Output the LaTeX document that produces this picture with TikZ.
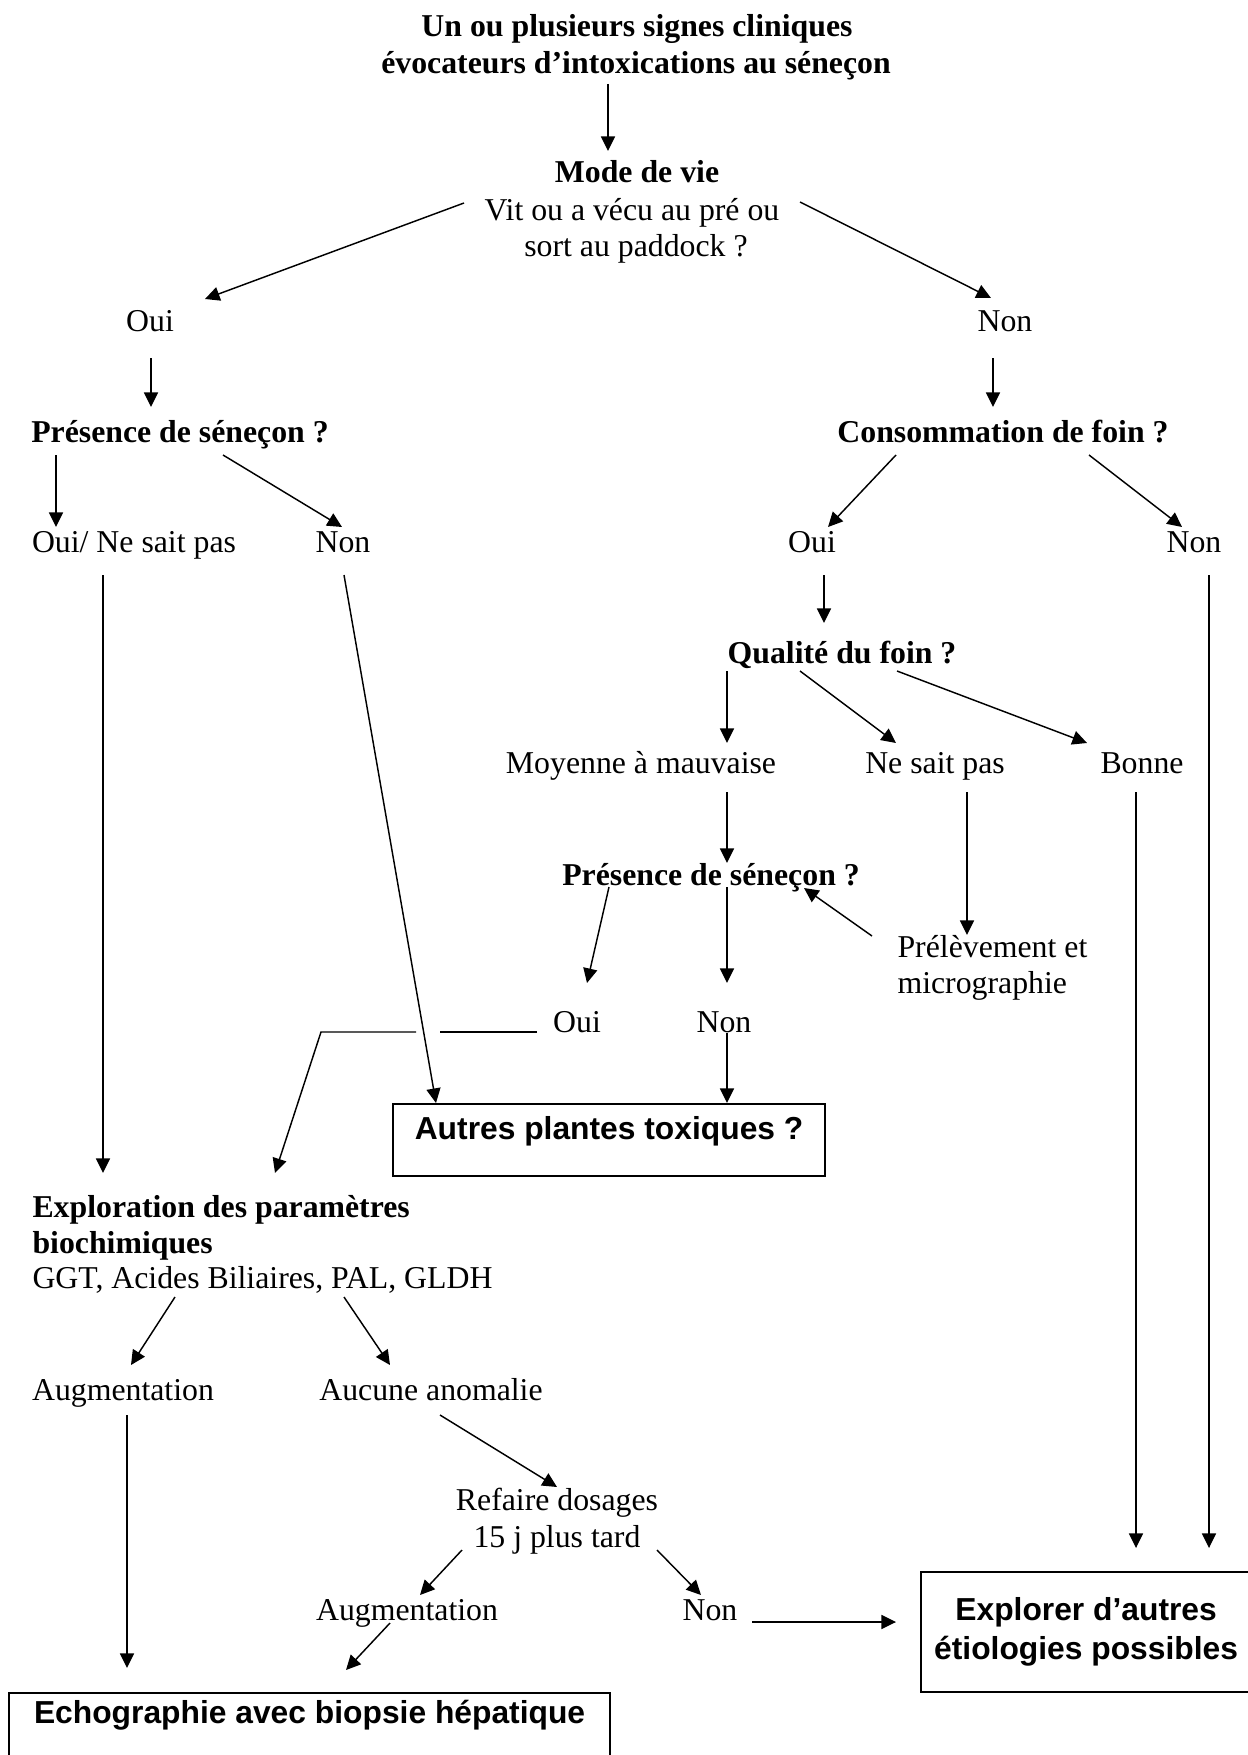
\documentclass[tikz,border=0pt]{standalone}
\usepackage{fontspec}
\setmainfont{Liberation Serif}
\newfontfamily\arialfont{Liberation Sans}
\usetikzlibrary{arrows.meta}
\tikzset{
  x=0.3775pt, y=-0.3775pt,
  txt/.style={inner sep=0pt, anchor=base, font=\fontsize{12}{14}\selectfont},
  btxt/.style={txt, font=\fontsize{12}{14}\selectfont\bfseries},
  ltxt/.style={txt, anchor=base west},
  bltxt/.style={btxt, anchor=base west},
  ln/.style={line width=0.55pt},
  arr/.style={line width=0.55pt, -{Triangle[length=5.5pt,width=5.3pt]}},
  box/.style={draw, line width=0.8pt, inner sep=0pt, align=center,
    font=\arialfont\bfseries\fontsize{12}{14.7}\selectfont}
}
\begin{document}
\begin{tikzpicture}
\useasboundingbox (0,0) rectangle (1248,1755);
\fill[white] (0,0) rectangle (1248,1755);
\clip (0,0) rectangle (1248,1755);

% ---- texts ----
\node[btxt] (title1) at (637,37) {Un ou plusieurs signes cliniques};
\node[btxt] (title2) at (636,74) {évocateurs d’intoxications au séneçon};
\node[btxt] (mode1) at (637,183) {Mode de vie};
\node[txt] (mode2) at (632,221) {Vit ou a vécu au pré ou};
\node[txt] (mode3) at (636,257) {sort au paddock ?};
\node[txt] (oui1) at (150,332) {Oui};
\node[txt] (non1) at (1005,332) {Non};
\node[btxt] (pres1) at (180,442) {Présence de séneçon ?};
\node[btxt] (cons) at (1003,442) {Consommation de foin ?};
\node[txt] (ouins) at (134,552) {Oui/ Ne sait pas};
\node[txt] (non2) at (343,552) {Non};
\node[txt] (oui2) at (812,552) {Oui};
\node[txt] (non3) at (1194,552) {Non};
\node[btxt] (qual) at (842,663) {Qualité du foin ?};
\node[txt] (moy) at (641,773) {Moyenne à mauvaise};
\node[txt] (nsp) at (935,773) {Ne sait pas};
\node[txt] (bonne) at (1142,773) {Bonne};
\node[btxt] (pres2) at (711,885) {Présence de séneçon ?};
\node[ltxt] (prel1) at (897,957) {Prélèvement et};
\node[ltxt] (prel2) at (897,993) {micrographie};
\node[txt] (oui3) at (577,1032) {Oui};
\node[txt] (non4) at (724,1032) {Non};
\node[bltxt] (expl1) at (32,1217) {Exploration des paramètres};
\node[bltxt] (expl2) at (32,1253) {biochimiques};
\node[ltxt] (expl3) at (32,1288) {GGT, Acides Biliaires, PAL, GLDH};
\node[txt] (aug1) at (123,1400) {Augmentation};
\node[txt] (aucune) at (431,1400) {Aucune anomalie};
\node[txt] (ref1) at (557,1510) {Refaire dosages};
\node[txt] (ref2) at (557,1547) {15 j plus tard};
\node[txt] (aug2) at (407,1620) {Augmentation};
\node[txt] (non5) at (710,1620) {Non};

% ---- boxes ----
\node[box, anchor=north west, minimum width=163.1pt, minimum height=27.2pt,
  text height=13.2pt, text depth=14pt] (autres) at (392,1103) {Autres plantes toxiques ?};
\node[box, anchor=north west, minimum width=124.6pt, minimum height=45.3pt]
  (explorer) at (920,1571) {Explorer d’autres\\étiologies possibles};
\node[box, anchor=north west, minimum width=226.9pt, minimum height=37.7pt,
  text height=11.3pt, text depth=26.4pt] (echo) at (8,1692) {Echographie avec biopsie hépatique};

% ---- connectors ----
\draw[arr] ([shift={(-28,10)}]title2.base) -- ([shift={(-29,-32)}]mode1.base);
\draw[arr] ([shift={(-168,-18)}]mode2.base) -- ([shift={(55,-33)}]oui1.base);
\draw[arr] ([shift={(168,-19)}]mode2.base) -- ([shift={(-14,-34)}]non1.base);
\draw[arr] ([shift={(1,26)}]oui1.base) -- ([shift={(-29,-35)}]pres1.base);
\draw[arr] ([shift={(-12,26)}]non1.base) -- ([shift={(-10,-35)}]cons.base);

\draw[arr] ([shift={(-124,13)}]pres1.base) -- ([shift={(-78,-25)}]ouins.base);
\draw[arr] ([shift={(43,13)}]pres1.base) -- ([shift={(-1,-25)}]non2.base);
\draw[arr] ([shift={(-107,13)}]cons.base) -- ([shift={(16,-25)}]oui2.base);
\draw[arr] ([shift={(86,13)}]cons.base) -- ([shift={(-12,-25)}]non3.base);

\draw[arr] ([shift={(-31,23)}]ouins.base) -- ([shift={(71,-44)}]expl1.base west);
\draw[arr] ([shift={(1,23)}]non2.base) -- ([shift={(44,0)}]autres.north west);
\draw[arr] ([shift={(12,23)}]oui2.base) -- ([shift={(-18,-40)}]qual.base);
\draw[arr] ([shift={(15,23)}]non3.base) -- ([shift={(289,-23)}]explorer.north west);

\draw[arr] ([shift={(-115,8)}]qual.base) -- ([shift={(86,-30)}]moy.base);
\draw[arr] ([shift={(-42,8)}]qual.base) -- ([shift={(-39,-30)}]nsp.base);
\draw[arr] ([shift={(55,8)}]qual.base) -- ([shift={(-55,-30)}]bonne.base);

\draw[arr] ([shift={(86,19)}]moy.base) -- ([shift={(16,-22)}]pres2.base);
\draw[arr] ([shift={(32,19)}]nsp.base) -- ([shift={(70,-22)}]prel1.base west);
\draw[arr] ([shift={(-6,19)}]bonne.base) -- ([shift={(216,-23)}]explorer.north west);

\draw[arr] ([shift={(-102,2)}]pres2.base) -- ([shift={(10,-49)}]oui3.base);
\draw[arr] ([shift={(16,2)}]pres2.base) -- ([shift={(3,-49)}]non4.base);
\draw[arr] ([shift={(-25,-21)}]prel1.base west) -- ([shift={(93,3)}]pres2.base);

\draw[ln] ([shift={(-40,0)}]oui3.base) -- ([shift={(-137,0)}]oui3.base);
\draw[arr] ([shift={(-161,0)}]oui3.base) -- ([shift={(-256,0)}]oui3.base)
  -- ([shift={(243,-44)}]expl1.base west);
\draw[arr] ([shift={(3,1)}]non4.base) -- ([shift={(335,0)}]autres.north west);

\draw[arr] ([shift={(143,9)}]expl3.base west) -- ([shift={(8,-35)}]aug1.base);
\draw[arr] ([shift={(312,9)}]expl3.base west) -- ([shift={(-41,-35)}]aucune.base);

\draw[arr] ([shift={(4,15)}]aug1.base) -- ([shift={(119,-24)}]echo.north west);
\draw[arr] ([shift={(9,15)}]aucune.base) -- ([shift={(0,-23)}]ref1.base);
\draw[arr] ([shift={(-95,3)}]ref2.base) -- ([shift={(13,-25)}]aug2.base);
\draw[arr] ([shift={(100,3)}]ref2.base) -- ([shift={(-9,-25)}]non5.base);
\draw[arr] ([shift={(-17,3)}]aug2.base) -- ([shift={(338,-22)}]echo.north west);
\draw[arr] ([shift={(42,2)}]non5.base) -- ([shift={(-24,51)}]explorer.north west);
\end{tikzpicture}
\end{document}
